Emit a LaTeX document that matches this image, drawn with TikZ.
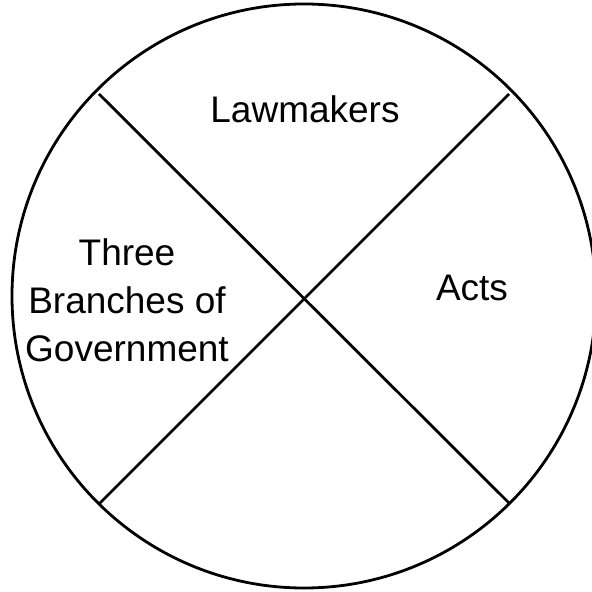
\documentclass[tikz,border=0pt]{standalone}
\usepackage{fontspec}
\setmainfont{Liberation Sans}
\usepackage{tikz}

\tikzset{label text/.style={font=\fontsize{37pt}{48pt}\selectfont, align=center, anchor=base, inner sep=0pt}}

\begin{document}
\begin{tikzpicture}[x=1pt,y=1pt]
 \useasboundingbox (0,0) rectangle (592,592);
 \coordinate (c) at (304,296);
 \draw[line width=2.8pt] (c) circle (292);
 \coordinate (nw) at (99,498);
 \coordinate (ne) at (509,498);
 \coordinate (sw) at (99,88);
 \coordinate (se) at (510,88);
 \draw[line width=2.8pt] (nw) -- (se);
 \draw[line width=2.8pt] (ne) -- (sw);
 \node[label text] (lawmakers) at (305,469) {Lawmakers};
 \node[label text] (acts) at (472,291) {Acts};
 \node[label text] (branches) at (127,230) {Three\\Branches of\\Government};
\end{tikzpicture}
\end{document}
